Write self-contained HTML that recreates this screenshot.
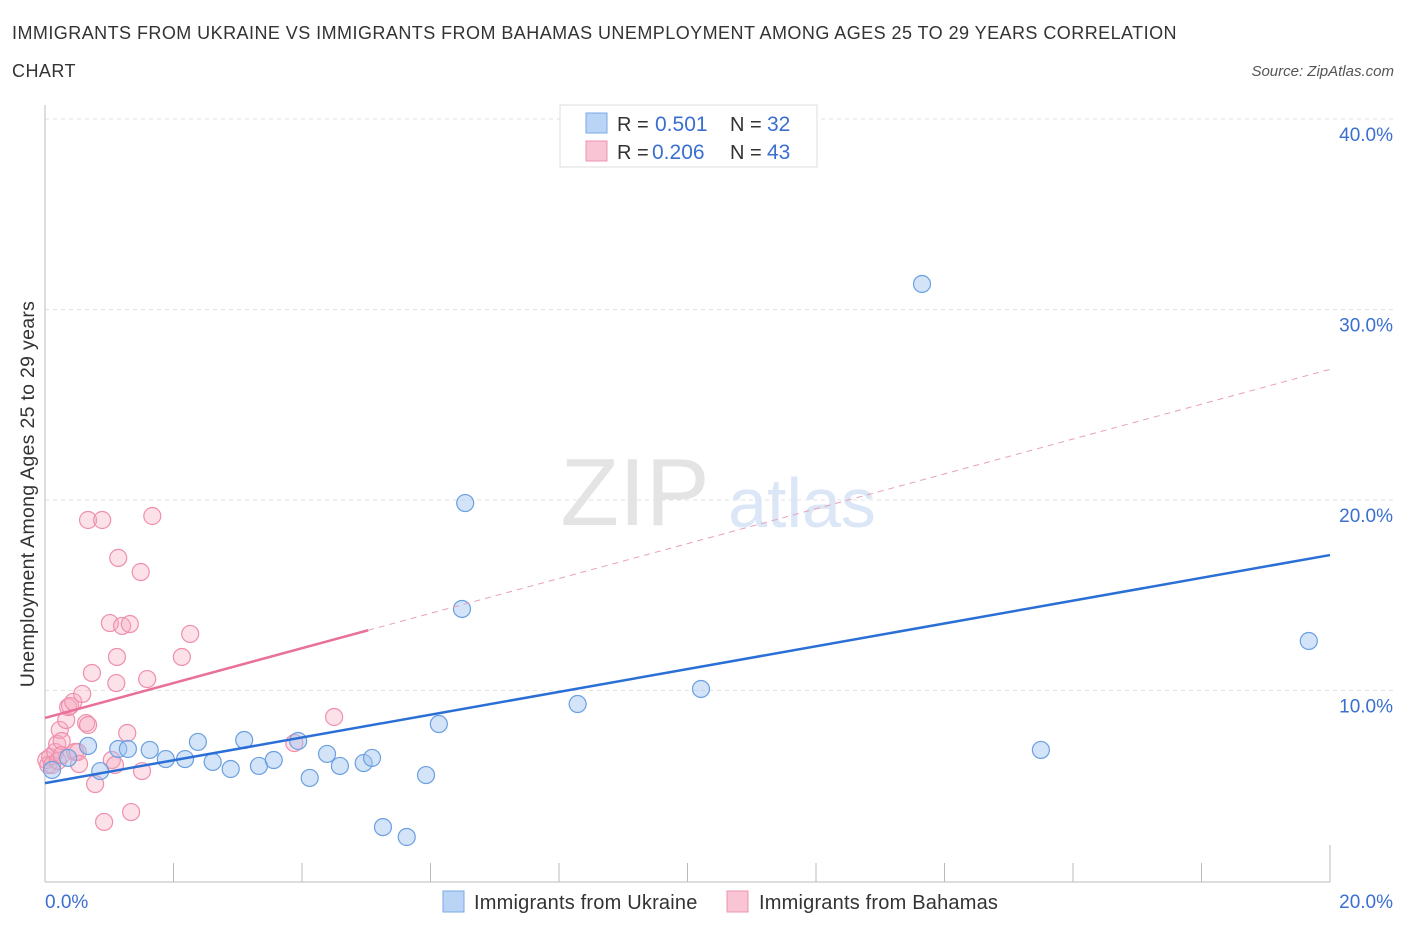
<!DOCTYPE html>
<html><head><meta charset="utf-8"><style>
body{margin:0;background:#fff;font-family:"Liberation Sans",sans-serif;}
svg text{font-family:"Liberation Sans",sans-serif;}
</style></head><body>
<svg id="chart" width="1406" height="930" xmlns="http://www.w3.org/2000/svg">
<text x="12" y="39" font-size="18" letter-spacing="0.45" fill="#333">IMMIGRANTS FROM UKRAINE VS IMMIGRANTS FROM BAHAMAS UNEMPLOYMENT AMONG AGES 25 TO 29 YEARS CORRELATION</text>
<text x="12" y="77" font-size="18" letter-spacing="0.45" fill="#333">CHART</text>
<text x="1394" y="76" font-size="15" fill="#555" font-style="italic" text-anchor="end">Source: ZipAtlas.com</text>
<g>
<text x="635" y="525" font-size="96" fill="#e4e4e4" font-family="Liberation Serif" text-anchor="middle">ZIP</text>
<text x="802" y="527" font-size="70" fill="#dbe6f6" text-anchor="middle">atlas</text>
</g>
<g id="grid"></g>
<g id="axes"></g>
<g id="marks"></g>
<text transform="translate(34,494) rotate(-90)" font-size="19.5" letter-spacing="0.3" fill="#333" text-anchor="middle">Unemployment Among Ages 25 to 29 years</text>
<g>
<rect x="560" y="105" width="257" height="62" fill="#fff" stroke="#ddd"/>
<rect x="586" y="113" width="21" height="20" fill="#b9d4f5" stroke="#7aaae6"/>
<text x="617" y="131" font-size="20" fill="#333">R = </text><text x="655" y="131" font-size="21" fill="#3a6fd0">0.501</text>
<text x="730" y="131" font-size="20" fill="#333">N = </text><text x="767" y="131" font-size="21" fill="#3a6fd0">32</text>
<rect x="586" y="141" width="21" height="20" fill="#f9c5d4" stroke="#ec94ae"/>
<text x="617" y="159" font-size="20" fill="#333">R = </text><text x="652" y="159" font-size="21" fill="#3a6fd0">0.206</text>
<text x="730" y="159" font-size="20" fill="#333">N = </text><text x="767" y="159" font-size="21" fill="#3a6fd0">43</text>
</g>
<g>
<rect x="443" y="891" width="21" height="21" fill="#b9d4f5" stroke="#7aaae6"/>
<text x="474" y="909" font-size="20" letter-spacing="0.2" fill="#333">Immigrants from Ukraine</text>
<rect x="727" y="891" width="21" height="21" fill="#f9c5d4" stroke="#ec94ae"/>
<text x="759" y="909" font-size="20" letter-spacing="0.2" fill="#333">Immigrants from Bahamas</text>
</g>
</svg>
<script>
const yTicks=[10,20,30,40];
const yTickLabels=["10.0%","20.0%","30.0%","40.0%"];
const xTickLabels=["0.0%","20.0%"];
const ukraineX=[0.11,0.36,0.67,0.86,1.14,1.29,1.63,1.88,2.18,2.38,2.61,2.89,3.10,3.33,3.56,3.94,4.12,4.39,4.59,4.96,5.09,5.26,5.63,5.93,6.13,6.49,6.54,8.29,10.21,13.65,15.50,19.67];
const ukraineY=[5.83,6.46,7.09,5.77,6.93,6.93,6.88,6.40,6.40,7.30,6.25,5.88,7.40,6.04,6.35,7.35,5.41,6.67,6.04,6.19,6.46,2.83,2.31,5.56,8.24,14.28,19.84,9.29,10.08,31.34,6.88,12.60];
const bahamasX=[0.02,0.05,0.08,0.11,0.16,0.19,0.20,0.23,0.26,0.26,0.33,0.36,0.39,0.44,0.47,0.51,0.53,0.58,0.64,0.67,0.73,0.67,0.78,0.89,0.92,1.01,1.04,1.09,1.11,1.14,1.12,1.20,1.28,1.32,1.34,1.49,1.51,1.59,1.67,2.13,2.26,3.88,4.50];
const bahamasY=[6.35,6.09,6.51,6.09,6.77,7.19,6.30,7.93,7.35,6.61,8.45,9.13,9.19,9.40,6.77,6.77,6.14,9.82,8.29,8.19,10.92,18.95,5.09,18.95,3.10,13.54,6.35,6.09,10.39,16.96,11.76,13.39,7.77,13.49,3.62,16.22,5.77,10.60,19.16,11.76,12.97,7.24,8.61];
const ukraineTrend=[5.14,17.11];
const bahamasTrend=[8.56,0.915,5.03];
const NS="http://www.w3.org/2000/svg";
const X0=45,X1=1330,Y0=881,PER=19.05;
const sx=v=>X0+(v/20)*(X1-X0);
const sy=v=>Y0-v*PER;
function mk(tag,attrs,parent){const e=document.createElementNS(NS,tag);for(const k in attrs)e.setAttribute(k,attrs[k]);document.getElementById(parent).appendChild(e);return e;}
yTicks.forEach((t,i)=>{
 const g=mk('line',{x1:X0,x2:1395,y1:sy(t),y2:sy(t),stroke:'#e2e2e2','stroke-dasharray':'4,4'},'grid');
 
 
 const l=mk('text',{x:1393,y:sy(t)+22,'font-size':19,fill:'#3a6fd0','text-anchor':'end'},'axes');
 l.textContent=yTickLabels[i];
 
 
});
const ya=mk('line',{x1:X0,x2:X0,y1:105,y2:882,stroke:'#bbb'},'axes');


const xa=mk('line',{x1:X0,x2:X1,y1:882,y2:882,stroke:'#bbb'},'axes');


for(let i=0;i<=10;i++){
 const x=sx(i*2);
 const t=mk('line',{x1:x,x2:x,y1:i==10?845:863,y2:882,stroke:'#bbb'},'axes');
 
 
}
const xl0=mk('text',{x:45,y:908,'font-size':19,fill:'#3a6fd0'},'axes');xl0.textContent=xTickLabels[0];


const xl1=mk('text',{x:1393,y:908,'font-size':19,fill:'#3a6fd0','text-anchor':'end'},'axes');xl1.textContent=xTickLabels[1];


bahamasX.forEach((v,i)=>{
 const c=mk('circle',{cx:sx(v),cy:sy(bahamasY[i]),r:8.5,fill:'rgba(246,170,192,0.35)',stroke:'#ef8fac','stroke-width':1.2},'marks');
 
 
});
ukraineX.forEach((v,i)=>{
 const c=mk('circle',{cx:sx(v),cy:sy(ukraineY[i]),r:8.5,fill:'rgba(160,196,240,0.45)',stroke:'#6a9fe0','stroke-width':1.2},'marks');
 
 
});
const bt=mk('line',{x1:sx(0),y1:sy(ukraineTrend[0]),x2:sx(20),y2:sy(ukraineTrend[1]),stroke:'#2a6fd6','stroke-width':2.5},'marks');


const [pb,pm,pe]=bahamasTrend;
const ps=mk('line',{x1:sx(0),y1:sy(pb),x2:sx(pe),y2:sy(pb+pm*pe),stroke:'#e8709a','stroke-width':2.5},'marks');


const pd=mk('line',{x1:sx(pe),y1:sy(pb+pm*pe),x2:sx(20),y2:sy(pb+pm*20),stroke:'#e8a0b8','stroke-width':1,'stroke-dasharray':'6,5'},'marks');


</script>
</body></html>
